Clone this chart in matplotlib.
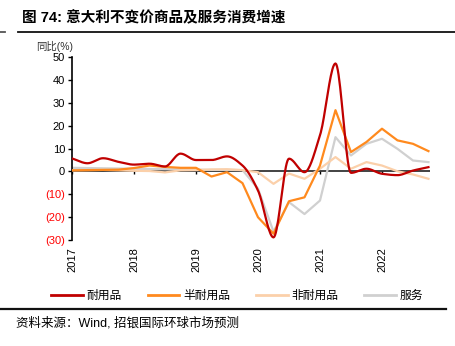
import numpy as np
import matplotlib
matplotlib.use("Agg")
import matplotlib.pyplot as plt
from matplotlib.lines import Line2D

plt.rcParams['font.family'] = ['Liberation Sans', 'Noto Sans CJK SC', 'DejaVu Sans']

# Datos trimestrales 2017T1 - 2022T4 (% interanual)
anios = ["2017", "2018", "2019", "2020", "2021", "2022"]
duraderos = [5.7, 3.6, 5.8, 4.2, 3.0, 3.4, 2.2, 7.8, 5.0, 5.0, 6.6, 2.6,
             -8.3, -28.8, 5.6, -0.3, 15.8, 47.2, -0.6, 1.2, -1.0, -1.6, 0.4, 1.9]
semiduraderos = [0.5, 0.6, 0.7, 0.8, 1.5, 2.6, 2.0, 1.6, 1.6, -2.2, -0.3, -5.1,
                 -20.0, -27.2, -13.0, -11.3, 2.6, 26.8, 8.5, 12.9, 18.7, 13.6, 12.1, 8.9]
no_duraderos = [0.5, 0.6, 0.7, 0.5, 0.3, 0.2, -0.4, 0.5, 0.6, 0.9, 1.0, 0.6,
                -0.3, -5.4, -0.9, -3.2, 1.2, 6.3, 1.2, 4.1, 2.6, 0.1, -1.3, -3.2]
servicios = [1.6, 1.5, 1.4, 1.3, 1.2, 1.1, 1.0, 0.9, 0.8, 0.7, 0.7, 0.6,
             -7.5, -26.3, -13.4, -18.6, -12.7, 15.0, 7.0, 12.1, 14.3, 9.9, 4.8, 4.1]
etiquetas = ["耐用品", "半耐用品", "非耐用品", "服务"]
colores = ["#C00000", "#FF8A1E", "#FBD0AA", "#D0D0D0"]


def suavizar(x, y, n=20):
    """Curva suave monotona por tramos (Hermite tipo Fritsch-Carlson)."""
    x = np.asarray(x, float)
    y = np.asarray(y, float)
    h = np.diff(x)
    d = np.diff(y) / h
    m = np.zeros_like(y)
    for i in range(1, len(y) - 1):
        if d[i - 1] * d[i] > 0:
            w1 = 2 * h[i] + h[i - 1]
            w2 = h[i] + 2 * h[i - 1]
            m[i] = (w1 + w2) / (w1 / d[i - 1] + w2 / d[i])
    m[0] = d[0]
    m[-1] = d[-1]
    xs, ys = [], []
    t = np.linspace(0, 1, n, endpoint=False)
    for i in range(len(x) - 1):
        h00 = 2 * t ** 3 - 3 * t ** 2 + 1
        h10 = t ** 3 - 2 * t ** 2 + t
        h01 = -2 * t ** 3 + 3 * t ** 2
        h11 = t ** 3 - t ** 2
        xs.extend(x[i] + t * h[i])
        ys.extend(h00 * y[i] + h10 * h[i] * m[i] + h01 * y[i + 1] + h11 * h[i] * m[i + 1])
    xs.append(x[-1])
    ys.append(y[-1])
    return np.array(xs), np.array(ys)


x = np.arange(len(duraderos))

fig = plt.figure(figsize=(4.56, 3.46), dpi=100)
ax = fig.add_axes([0.158, 0.306, 0.785, 0.529])

ax.plot(x, servicios, color=colores[3], lw=1.6, zorder=2)
ax.plot(x, no_duraderos, color=colores[2], lw=1.6, zorder=3)
ax.plot(x, semiduraderos, color=colores[1], lw=1.6, zorder=4)
xs, ys = suavizar(x, duraderos)
ax.plot(xs, ys, color=colores[0], lw=1.6, zorder=5)
ax.axhline(0, color="#222222", lw=1.2, zorder=1)

ax.set_xlim(0, 23.1)
ax.set_ylim(-30, 50)
ax.set_yticks(range(-30, 51, 10))
ax.set_yticklabels([f"({abs(v)})" if v < 0 else str(v) for v in range(-30, 51, 10)],
                   fontsize=8)
for lbl, v in zip(ax.get_yticklabels(), range(-30, 51, 10)):
    if v < 0:
        lbl.set_color("red")
ax.tick_params(axis="y", length=3, width=1, pad=2)

for s in ("top", "right", "bottom"):
    ax.spines[s].set_visible(False)
ax.spines["left"].set_linewidth(1.2)

# etiquetas de años abajo, marcas sobre la linea de cero
pos_anios = [4 * i for i in range(len(anios))]
ax.set_xticks(pos_anios)
ax.set_xticklabels(anios, rotation=90, fontsize=8)
ax.tick_params(axis="x", length=0, pad=5)
sec = ax.secondary_xaxis(30 / 80)
sec.set_xticks(pos_anios)
sec.set_xticklabels([])
sec.tick_params(axis="x", length=2, width=1, direction="out")
sec.spines["bottom"].set_visible(False)

fig.text(0.08, 1 - 46 / 346, "同比(%)", fontsize=7.5, va="center", color="#333333")

# titulo y lineas
fig.text(0.048, 1 - 18 / 346, "图 74: 意大利不变价商品及服务消费增速",
         fontsize=10.5, fontweight="bold", va="center")
fig.add_artist(Line2D([0.04, 1.0], [1 - 32 / 346] * 2, color="#111111", lw=1.3))
fig.add_artist(Line2D([0.0, 0.01], [1 - 32 / 346] * 2, color="#555555", lw=1.3))
fig.add_artist(Line2D([0.0, 0.978], [1 - 309 / 346] * 2, color="#111111", lw=1.6))
fig.text(0.035, 1 - 323 / 346, "资料来源：Wind, 招银国际环球市场预测",
         fontsize=9, va="center")

handles = [Line2D([], [], color=c, lw=2) for c in colores]
fig.legend(handles, etiquetas, loc="center", bbox_to_anchor=(0.52, 1 - 296 / 346),
           ncol=4, frameon=False, fontsize=8.5, handlelength=2.7,
           handletextpad=0.3, columnspacing=2.2)

fig.savefig("out.png", dpi=100)
